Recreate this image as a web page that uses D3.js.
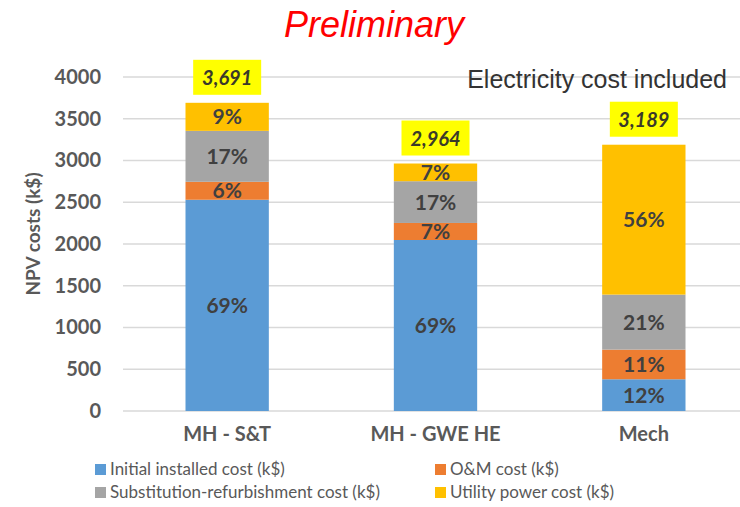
<!DOCTYPE html>
<html>
<head>
<meta charset="utf-8">
<script src="https://cdn.jsdelivr.net/npm/d3@7"></script>
<style>
  body { margin: 0; background: #fff; }
  svg { display: block; }
</style>
</head>
<body>
<div id="chart"></div>
<script>
// data (k$)
var categories = ["MH - S&T", "MH - GWE HE", "Mech"];
var seriesNames = ["Initial installed cost (k$)", "O&M cost (k$)", "Substitution-refurbishment cost (k$)", "Utility power cost (k$)"];
var initialCost = [2530, 2048, 380];
var omCost = [215, 204, 355];
var substitutionCost = [610, 500, 659];
var utilityCost = [336, 212, 1795];
var yTicks = [0, 500, 1000, 1500, 2000, 2500, 3000, 3500, 4000];
var colors = ["#5b9bd5", "#ed7d31", "#a5a5a5", "#ffc000"];

var width = 740, height = 507;
var font = "Lato, 'Open Sans', sans-serif";

var svg = d3.select("#chart").append("svg")
  .attr("width", width)
  .attr("height", height);

// build rows for the stack
var keys = ["initial", "om", "sub", "util"];
var rows = categories.map(function(c, i) {
  return { cat: c, initial: initialCost[i], om: omCost[i], sub: substitutionCost[i], util: utilityCost[i] };
});
rows.forEach(function(r) { r.total = r.initial + r.om + r.sub + r.util; });

var stack = d3.stack().keys(keys)(rows);

// scales
var x = d3.scaleBand()
  .domain(categories)
  .range([123, 748])
  .paddingInner(0.6)
  .paddingOuter(0.3);

var y = d3.scaleLinear()
  .domain([0, 4000])
  .range([411, 77]);

// gridlines
svg.append("g").selectAll("line").data(yTicks).enter().append("line")
  .attr("x1", 123).attr("x2", width)
  .attr("y1", function(d) { return y(d); })
  .attr("y2", function(d) { return y(d); })
  .attr("stroke", "#d9d9d9")
  .attr("stroke-width", 1.5);

// y axis
var yAxis = d3.axisLeft(y).tickValues(yTicks).tickFormat(d3.format("d")).tickSize(0).tickPadding(0);
var yAxisG = svg.append("g")
  .attr("transform", "translate(101,0)")
  .call(yAxis);
yAxisG.select(".domain").remove();
yAxisG.selectAll("text")
  .attr("font-family", font)
  .attr("font-size", 20)
  .attr("font-weight", "bold")
  .attr("fill", "#595959");

svg.append("text")
  .attr("transform", "translate(40,234) rotate(-90)")
  .attr("text-anchor", "middle")
  .attr("font-family", font)
  .attr("font-size", 19)
  .attr("font-weight", "bold")
  .attr("fill", "#595959")
  .text("NPV costs (k$)");

// x axis
var xAxis = d3.axisBottom(x).tickSize(0).tickPadding(0);
var xAxisG = svg.append("g")
  .attr("transform", "translate(0,425)")
  .call(xAxis);
xAxisG.select(".domain").remove();
xAxisG.selectAll("text")
  .attr("dy", "0.8em")
  .attr("font-family", font)
  .attr("font-size", 20)
  .attr("font-weight", "bold")
  .attr("fill", "#595959");

// bars
var layers = svg.append("g").selectAll("g").data(stack).enter().append("g")
  .attr("fill", function(d, i) { return colors[i]; });

layers.selectAll("rect").data(function(d) { return d; }).enter().append("rect")
  .attr("x", function(d) { return x(d.data.cat); })
  .attr("y", function(d) { return y(d[1]); })
  .attr("width", x.bandwidth())
  .attr("height", function(d) { return y(d[0]) - y(d[1]); });

// percent labels
var pct = d3.format(".0%");
layers.selectAll("text").data(function(d) { return d; }).enter().append("text")
  .attr("x", function(d) { return x(d.data.cat) + x.bandwidth() / 2; })
  .attr("y", function(d) { return (y(d[0]) + y(d[1])) / 2; })
  .attr("dy", "0.36em")
  .attr("text-anchor", "middle")
  .attr("font-family", font)
  .attr("font-size", 21)
  .attr("font-weight", "bold")
  .attr("fill", "#404040")
  .text(function(d) { return pct((d[1] - d[0]) / d.data.total); });

// totals in yellow boxes
var totals = svg.append("g").selectAll("g").data(rows).enter().append("g")
  .attr("transform", function(d) {
    return "translate(" + (x(d.cat) + x.bandwidth() / 2) + "," + (y(d.total) - 8) + ")";
  });
totals.append("rect")
  .attr("x", -34).attr("y", -35)
  .attr("width", 68).attr("height", 35)
  .attr("fill", "#ffff00");
totals.append("text")
  .attr("y", -17)
  .attr("dy", "0.36em")
  .attr("text-anchor", "middle")
  .attr("font-family", font)
  .attr("font-size", 20)
  .attr("font-weight", "bold")
  .attr("font-style", "italic")
  .attr("fill", "#3a3a2a")
  .text(function(d) { return d3.format(",")(d.total); });

// title + note
svg.append("text")
  .attr("x", 374).attr("y", 37)
  .attr("text-anchor", "middle")
  .attr("font-family", "'Liberation Sans', Arial, sans-serif")
  .attr("font-size", 36)
  .attr("font-style", "italic")
  .attr("fill", "#ff0000")
  .text("Preliminary");

svg.append("text")
  .attr("x", 727).attr("y", 88)
  .attr("text-anchor", "end")
  .attr("font-family", "'Liberation Sans', Arial, sans-serif")
  .attr("font-size", 25)
  .attr("fill", "#333333")
  .text("Electricity cost included");

// legend
var legendPos = [[95, 469], [435, 469], [95, 492], [435, 492]];
var legend = svg.append("g").selectAll("g").data(seriesNames).enter().append("g")
  .attr("transform", function(d, i) { return "translate(" + legendPos[i][0] + "," + legendPos[i][1] + ")"; });
legend.append("rect")
  .attr("x", 0).attr("y", -5)
  .attr("width", 11).attr("height", 11)
  .attr("fill", function(d, i) { return colors[i]; });
legend.append("text")
  .attr("x", 15)
  .attr("dy", "0.36em")
  .attr("font-family", font)
  .attr("font-size", 17)
  .attr("fill", "#595959")
  .text(function(d) { return d; });
</script>
</body>
</html>
